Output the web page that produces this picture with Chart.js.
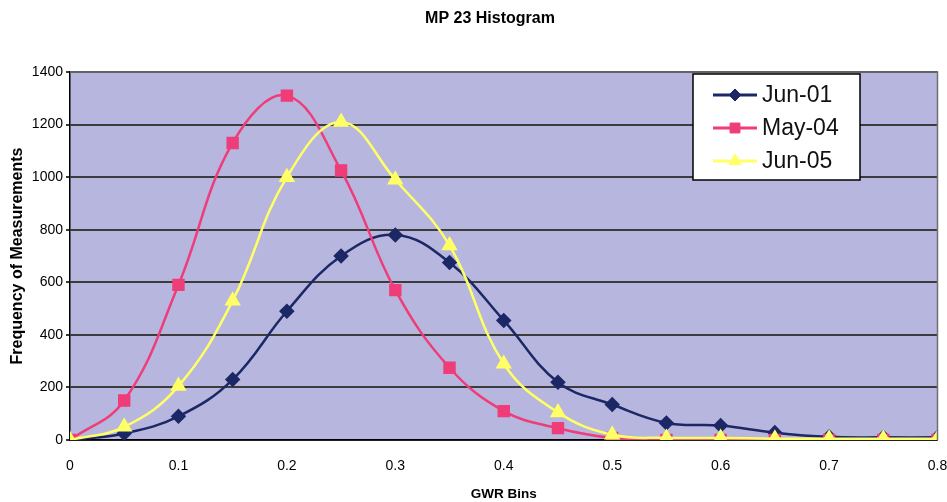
<!DOCTYPE html>
<html>
<head>
<meta charset="utf-8">
<script src="https://cdn.jsdelivr.net/npm/chart.js@4"></script>
<style>
  body { margin: 0; background: #fff; }
  canvas { display: block; }
</style>
</head>
<body>
<canvas id="c" width="947" height="502"></canvas>
<script>
// GWR bin centres (x) and frequency counts per survey
const bins = [0, 0.05, 0.1, 0.15, 0.2, 0.25, 0.3, 0.35, 0.4, 0.45, 0.5, 0.55, 0.6, 0.65, 0.7, 0.75, 0.8];
const jun01 = [0, 25, 90, 230, 490, 700, 780, 675, 455, 220, 135, 65, 55, 28, 12, 10, 10];
const may04 = [0, 150, 590, 1130, 1310, 1025, 570, 275, 110, 45, 8, 0, 0, 0, 0, 0, 0];
const jun05 = [0, 50, 205, 530, 1000, 1210, 990, 740, 290, 105, 20, 8, 8, 5, 5, 5, 5];
const seriesNames = ['Jun-01', 'May-04', 'Jun-05'];
const yTicks = [0, 200, 400, 600, 800, 1000, 1200, 1400];
const xTicks = [0, 0.1, 0.2, 0.3, 0.4, 0.5, 0.6, 0.7, 0.8];

const FONT = "'Liberation Sans', Arial, sans-serif";

const toPts = (vals) => vals.map((v, i) => ({ x: bins[i], y: v }));

// plot background + border + title + legend box drawn inside the plot
const decor = {
  id: 'decor',
  beforeDraw(chart) {
    const { ctx, chartArea: a } = chart;
    ctx.save();
    ctx.fillStyle = '#b6b6de';
    ctx.fillRect(a.left, a.top, a.right - a.left, a.bottom - a.top);
    ctx.restore();
  },
  afterDatasetsDraw(chart) {
    const { ctx, chartArea: a } = chart;
    ctx.save();
    ctx.strokeStyle = '#707070';
    ctx.lineWidth = 1.5;
    ctx.beginPath();
    ctx.moveTo(a.left, a.top);
    ctx.lineTo(a.right, a.top);
    ctx.lineTo(a.right, a.bottom);
    ctx.stroke();

    // title
    ctx.fillStyle = '#000';
    ctx.font = "bold 16px " + FONT;
    ctx.textAlign = 'center';
    ctx.textBaseline = 'middle';
    ctx.fillText('MP 23 Histogram', 490, 19);

    // legend
    const bx = 693, by = 74, bw = 167, bh = 106;
    ctx.fillStyle = '#fff';
    ctx.fillRect(bx, by, bw, bh);
    ctx.strokeStyle = '#000';
    ctx.lineWidth = 1.5;
    ctx.strokeRect(bx, by, bw, bh);
    chart.data.datasets.forEach((ds, i) => {
      const y = by + 21 + i * 33;
      ctx.strokeStyle = ds.borderColor;
      ctx.lineWidth = 3;
      ctx.beginPath();
      ctx.moveTo(713, y);
      ctx.lineTo(757, y);
      ctx.stroke();
      ctx.fillStyle = ds.pointBackgroundColor;
      ctx.strokeStyle = ds.pointBorderColor;
      ctx.lineWidth = 1;
      Chart.helpers.drawPoint(ctx, {
        pointStyle: ds.pointStyle,
        radius: ds.pointRadius,
        rotation: 0,
        borderWidth: 1
      }, 735, y);
      ctx.fillStyle = '#111';
      ctx.font = "23px " + FONT;
      ctx.textAlign = 'left';
      ctx.textBaseline = 'middle';
      ctx.fillText(ds.label, 762, y + 1);
    });
    ctx.restore();
  }
};

const mk = (label, vals, color, style, r, order) => ({
  label: label,
  data: toPts(vals),
  borderColor: color,
  backgroundColor: color,
  pointBackgroundColor: color,
  pointBorderColor: color,
  pointStyle: style,
  pointRadius: r,
  borderWidth: 2.5,
  tension: 0.4,
  order: order
});

new Chart(document.getElementById('c'), {
  type: 'line',
  data: {
    datasets: [
      mk(seriesNames[0], jun01, '#1c2866', 'rectRot', 6, 2),
      mk(seriesNames[1], may04, '#ee3d78', 'rect', 7, 1),
      mk(seriesNames[2], jun05, '#ffff66', 'triangle', 7, 0)
    ]
  },
  options: {
    responsive: false,
    animation: false,
    layout: { padding: { top: 72, right: 7, left: 0, bottom: 0 } },
    plugins: {
      legend: { display: false },
      title: { display: false },
      tooltip: { enabled: false }
    },
    scales: {
      x: {
        type: 'linear',
        min: 0,
        max: 0.8,
        afterBuildTicks: (s) => { s.ticks = xTicks.map(v => ({ value: v })); },
        afterFit: (s) => { s.height = 62; s.paddingLeft = 0; s.paddingRight = 0; },
        grid: { display: false, drawTicks: true, tickLength: 5 },
        border: { color: '#000', width: 1.5 },
        ticks: {
          color: '#000',
          padding: 13,
          font: { size: 14, family: FONT },
          maxRotation: 0,
          callback: (v) => String(+v.toFixed(1))
        },
        title: {
          display: true,
          text: 'GWR Bins',
          color: '#000',
          padding: { top: 10, bottom: 0 },
          font: { size: 13.5, weight: 'bold', family: FONT }
        }
      },
      y: {
        min: 0,
        max: 1400,
        afterBuildTicks: (s) => { s.ticks = yTicks.map(v => ({ value: v })); },
        afterFit: (s) => { s.width = 70; },
        grid: { color: '#3c3c3c', lineWidth: 2, drawTicks: true, tickLength: 4 },
        border: { color: '#000', width: 1.5 },
        ticks: {
          color: '#000',
          padding: 3,
          font: { size: 14, family: FONT },
          callback: (v) => String(v)
        },
        title: {
          display: true,
          text: 'Frequency of Measurements',
          color: '#000',
          padding: { top: 8, bottom: 0 },
          font: { size: 16, weight: 'bold', family: FONT }
        }
      }
    }
  },
  plugins: [decor]
});
</script>
</body>
</html>
